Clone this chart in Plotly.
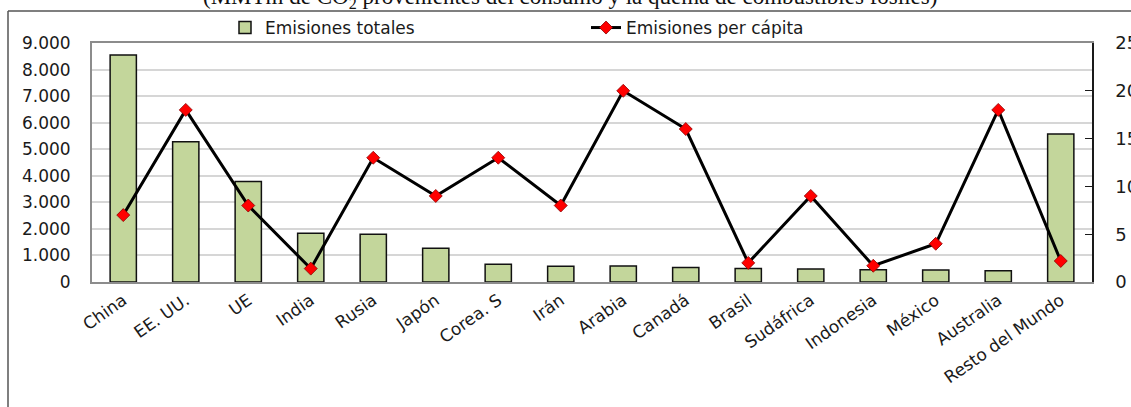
import plotly.graph_objects as go

# Emisiones de CO2 por país / región
paises = ["China", "EE. UU.", "UE", "India", "Rusia", "Japón", "Corea. S", "Irán",
          "Arabia", "Canadá", "Brasil", "Sudáfrica", "Indonesia", "México",
          "Australia", "Resto del Mundo"]
emisiones_totales = [8550, 5280, 3780, 1840, 1800, 1270, 670, 590,
                     600, 550, 510, 490, 460, 450, 420, 5570]
emisiones_per_capita = [7.0, 18.0, 8.0, 1.4, 13.0, 9.0, 13.0, 8.0,
                        20.0, 16.0, 2.0, 9.0, 1.7, 4.0, 18.0, 2.2]

W, H = 1131, 407
ML, MR, MT, MB = 92, 39, 43, 125
PW, PH = W - ML - MR, H - MT - MB


def px_x(px):
    return (px - ML) / PW


def px_y(py):
    return (H - MB - py) / PH


SANS = "DejaVu Sans"
TXT = "#1a1a1a"

fig = go.Figure()

fig.add_trace(go.Bar(
    x=paises, y=emisiones_totales, name="Emisiones totales",
    marker=dict(color="#c3d69b", line=dict(color="#111111", width=1.5)),
    width=0.42, yaxis="y",
))

fig.add_trace(go.Scatter(
    x=paises, y=emisiones_per_capita, name="Emisiones per cápita",
    mode="lines+markers", yaxis="y2",
    line=dict(color="#000000", width=3),
    marker=dict(symbol="diamond", size=10, color="#ff0000",
                line=dict(color="#8b0000", width=0.8)),
))

fig.update_layout(
    width=W, height=H,
    margin=dict(l=ML, r=MR, t=MT, b=MB, pad=0, autoexpand=False),
    paper_bgcolor="white", plot_bgcolor="white",
    separators=",.",
    showlegend=True,
    legend=dict(orientation="h", x=px_x(225), y=px_y(28), xanchor="left", yanchor="middle",
                font=dict(family=SANS, size=17, color=TXT),
                entrywidth=316, bgcolor="rgba(0,0,0,0)", itemwidth=30),
    bargap=0.5,
    xaxis=dict(
        showline=True, linecolor="#8c8c8c", linewidth=2, mirror=True,
        ticks="", tickangle=-35, automargin=False,
        tickfont=dict(family=SANS, size=17, color=TXT),
        showgrid=False, range=[-0.5, len(paises) - 0.5],
    ),
    yaxis=dict(
        range=[0, 9000], dtick=1000, tickformat=",d", automargin=False,
        showline=True, linecolor="#8c8c8c", linewidth=2,
        showgrid=True, gridcolor="#d6d6d6", gridwidth=2,
        ticks="", ticklabelstandoff=16,
        tickfont=dict(family=SANS, size=17, color=TXT),
        zeroline=False,
    ),
    # eje secundario: etiquetas separadas del eje con marcas transparentes
    yaxis2=dict(
        range=[0, 25], dtick=5, overlaying="y", side="right", automargin=False,
        showline=True, linecolor="#1a1a1a", linewidth=1.5,
        showgrid=False, ticks="outside", ticklen=18, tickcolor="rgba(0,0,0,0)",
        tickfont=dict(family=SANS, size=18, color=TXT),
        zeroline=False,
    ),
    # marcas interiores del eje secundario
    yaxis3=dict(
        range=[0, 25], dtick=5, overlaying="y", side="right", automargin=False,
        showline=False, showgrid=False, showticklabels=False,
        ticks="inside", ticklen=7, tickcolor="#1a1a1a", tickwidth=1.2,
        zeroline=False,
    ),
)

# traza invisible que activa el eje de marcas interiores
fig.add_trace(go.Scatter(x=[paises[0]], y=[0], yaxis="y3", mode="markers",
                         marker=dict(opacity=0), showlegend=False, hoverinfo="skip"))

# Marco exterior del gráfico
fig.add_shape(type="line", xref="paper", yref="paper",
              x0=px_x(8), x1=px_x(W + 5), y0=px_y(11), y1=px_y(11),
              line=dict(color="#555555", width=1.5))
fig.add_shape(type="line", xref="paper", yref="paper",
              x0=px_x(8), x1=px_x(8), y0=px_y(11), y1=px_y(H + 5),
              line=dict(color="#555555", width=1.5))

# Subtítulo con las unidades
fig.add_annotation(
    text="(MMTm de CO<sub>2</sub> provenientes del consumo y la quema de combustibles fósiles)",
    xref="paper", yref="paper", x=px_x(570), y=px_y(14),
    xanchor="center", yanchor="bottom", showarrow=False,
    font=dict(family="Liberation Serif", size=23, color="#111111"),
)

fig.write_html("out.html")
